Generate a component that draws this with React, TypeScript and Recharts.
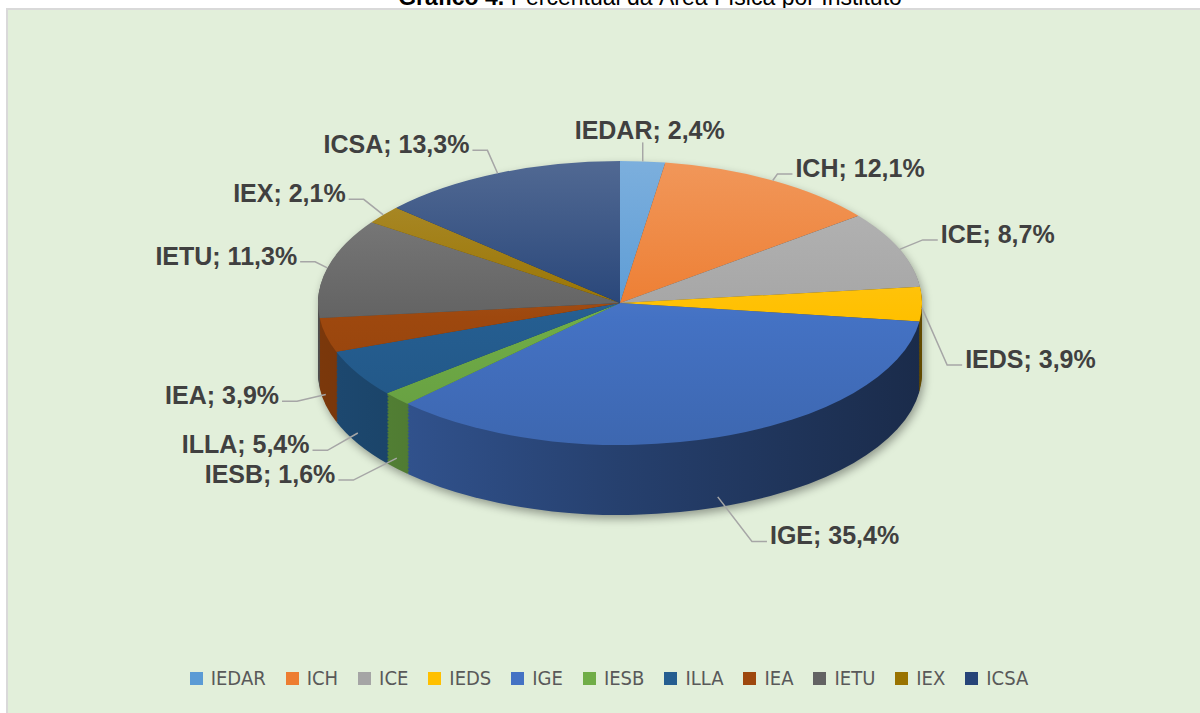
import { PieChart, Pie, Cell, Legend } from 'recharts';

// Gráfico 4 — share of physical area per institute (3D-style pie, Excel look)

const INSTITUTES = ['IEDAR', 'ICH', 'ICE', 'IEDS', 'IGE', 'IESB', 'ILLA', 'IEA', 'IETU', 'IEX', 'ICSA'];
const AREA_PCT = [2.4, 12.1, 8.7, 3.9, 35.4, 1.6, 5.4, 3.9, 11.3, 2.1, 13.3];

const COLORS = [
  '#5B9BD5', '#ED7D31', '#A5A5A5', '#FFC000', '#4472C4', '#70AD47',
  '#255E91', '#9E480E', '#636363', '#997300', '#264478',
];

// small label tweaks, Excel "best fit" moved a few of them
const LABEL_NUDGE: Record<string, [number, number]> = {
  ICH: [-8, 15],
  IEDS: [0, 57],
  IGE: [20, 3],
  IESB: [-15, -4],
  IETU: [12, 0],
};

const W = 1200;
const H = 713;
const CX = 620;
const CY = 303;
const RX = 302;
const RY = 142;
const DEPTH = 70;

const SY = RY / RX;
const CY_U = CY / SY;
const DEPTH_U = DEPTH / SY;
const STEP_U = 3;
const HU = Math.ceil(CY_U + DEPTH_U + RX + 20);
const LAYERS = Array.from({ length: Math.ceil(DEPTH_U / STEP_U) }, (_, i) => DEPTH_U - i * STEP_U);

const RADIAN = Math.PI / 180;

const rows = INSTITUTES.map((name, i) => ({ name, value: AREA_PCT[i] }));

function toRgb(hex: string) {
  const n = parseInt(hex.slice(1), 16);
  return [(n >> 16) & 255, (n >> 8) & 255, n & 255];
}
function shade(hex: string, f: number) {
  const [r, g, b] = toRgb(hex).map((v) => Math.round(v * f));
  return `rgb(${r},${g},${b})`;
}
function tint(hex: string, f: number) {
  const [r, g, b] = toRgb(hex).map((v) => Math.round(v + (255 - v) * f));
  return `rgb(${r},${g},${b})`;
}

const fmt = (v: number) => `${v.toFixed(1).replace('.', ',')}%`;

// eslint-disable-next-line @typescript-eslint/no-explicit-any
function renderLabel(props: any) {
  const { cx, cy, midAngle, index } = props;
  const name = INSTITUTES[index];
  const c = Math.cos(midAngle * RADIAN);
  const s = Math.sin(midAngle * RADIAN);
  const ex = cx + RX * c;
  let ey = cy - RY * s;
  if (s < 0) ey += DEPTH * 0.85 * Math.min(1, -s * 8);
  const text = `${name}; ${fmt(AREA_PCT[index])}`;
  const textStyle = {
    fontSize: 25,
    fontWeight: 700,
    fill: '#404040',
    fontFamily: "'Liberation Sans', Arial, sans-serif",
  };

  if (Math.abs(c) < 0.15) {
    return (
      <g key={`lbl-${index}`}>
        <polyline points={`${ex},${ey} ${ex},${ey - 19}`} stroke="#A6A6A6" strokeWidth={1.5} fill="none" />
        <text x={ex + 7} y={ey - 31} dy="0.35em" textAnchor="middle" {...textStyle}>
          {text}
        </text>
      </g>
    );
  }

  const [nx, ny] = LABEL_NUDGE[name] ?? [0, 0];
  const k = 25 + (s < 0 ? 20 * -s : 0);
  const bx = ex + k * c + nx;
  const by = ey - k * s + ny;
  const dir = c > 0 ? 1 : -1;
  const tx = bx + dir * 15;
  return (
    <g key={`lbl-${index}`}>
      <polyline
        points={`${ex},${ey} ${bx},${by} ${tx},${by}`}
        stroke="#A6A6A6"
        strokeWidth={1.5}
        fill="none"
      />
      <text x={tx + dir * 3} y={by - 6} dy="0.35em" textAnchor={dir > 0 ? 'start' : 'end'} {...textStyle}>
        {text}
      </text>
    </g>
  );
}

function LegendContent() {
  return (
    <div
      style={{
        display: 'flex',
        justifyContent: 'center',
        alignItems: 'center',
        paddingLeft: 38,
        fontFamily: "'Liberation Sans Narrow', 'DejaVu Sans Condensed', sans-serif",
        fontSize: 20,
        color: '#595959',
      }}
    >
      {INSTITUTES.map((name, i) => (
        <div key={name} style={{ display: 'flex', alignItems: 'center', marginRight: 20 }}>
          <span style={{ width: 13, height: 13, background: COLORS[i], marginRight: 8, display: 'inline-block' }} />
          <span>{name}</span>
        </div>
      ))}
    </div>
  );
}

const zero = { top: 0, right: 0, bottom: 0, left: 0 };

export default function App() {
  return (
    <div style={{ position: 'absolute', left: 0, top: 0, width: W, height: H, overflow: 'hidden', background: '#fff' }}>
      <div
        style={{
          position: 'absolute',
          left: 0,
          top: -14,
          width: 1300,
          textAlign: 'center',
          fontFamily: "'Liberation Sans', Arial, sans-serif",
          fontSize: 23,
          lineHeight: 1,
          color: '#000',
        }}
      >
        <b>Gráfico 4.</b> Percentual da Área Física por Instituto
      </div>
      <div
        style={{
          position: 'absolute',
          left: 6,
          top: 8,
          width: 1210,
          height: 720,
          background: '#E2EFDA',
          border: '2px solid #D9D9D9',
          boxSizing: 'border-box',
        }}
      />

      {/* pie body: circular pie squashed vertically, side wall built from stacked layers */}
      <div style={{ position: 'absolute', left: 0, top: 0, filter: 'drop-shadow(2px 4px 4px rgba(0,0,0,0.35))' }}>
        <div style={{ width: W, height: HU, transform: `scaleY(${SY})`, transformOrigin: '0 0' }}>
          <PieChart width={W} height={HU} margin={zero}>
            <defs>
              {COLORS.map((c, i) => (
                <linearGradient
                  key={`side-${i}`}
                  id={`side-${i}`}
                  gradientUnits="userSpaceOnUse"
                  x1={CX - RX}
                  y1={0}
                  x2={CX + RX}
                  y2={0}
                >
                  <stop offset="0" stopColor={shade(c, 0.78)} />
                  <stop offset="0.5" stopColor={shade(c, 0.56)} />
                  <stop offset="1" stopColor={shade(c, 0.38)} />
                </linearGradient>
              ))}
              {COLORS.map((c, i) => (
                <linearGradient
                  key={`top-${i}`}
                  id={`top-${i}`}
                  gradientUnits="userSpaceOnUse"
                  x1={0}
                  y1={CY_U - RX}
                  x2={0}
                  y2={CY_U + RX}
                >
                  <stop offset="0" stopColor={tint(c, 0.2)} />
                  <stop offset="0.55" stopColor={c} />
                  <stop offset="1" stopColor={shade(c, 0.9)} />
                </linearGradient>
              ))}
            </defs>
            {LAYERS.map((off, li) => (
              <Pie
                key={`layer-${li}`}
                data={rows}
                dataKey="value"
                nameKey="name"
                cx={CX}
                cy={CY_U + off}
                outerRadius={RX}
                startAngle={90}
                endAngle={-270}
                stroke="none"
                legendType="none"
                isAnimationActive={false}
              >
                {rows.map((r, i) => (
                  <Cell key={r.name} fill={`url(#side-${i})`} />
                ))}
              </Pie>
            ))}
            <Pie
              data={rows}
              dataKey="value"
              nameKey="name"
              cx={CX}
              cy={CY_U}
              outerRadius={RX}
              startAngle={90}
              endAngle={-270}
              stroke="none"
              legendType="none"
              isAnimationActive={false}
            >
              {rows.map((r, i) => (
                <Cell key={r.name} fill={`url(#top-${i})`} />
              ))}
            </Pie>
          </PieChart>
        </div>
      </div>

      {/* labels + legend, unsquashed */}
      <div style={{ position: 'absolute', left: 0, top: 0 }}>
        <PieChart width={W} height={H} margin={zero}>
          <Pie
            data={rows}
            dataKey="value"
            nameKey="name"
            cx={CX}
            cy={CY}
            outerRadius={RX}
            startAngle={90}
            endAngle={-270}
            stroke="none"
            label={renderLabel}
            labelLine={false}
            isAnimationActive={false}
          >
            {rows.map((r, i) => (
              <Cell key={r.name} fill={COLORS[i]} fillOpacity={0} />
            ))}
          </Pie>
          <Legend
            verticalAlign="bottom"
            content={<LegendContent />}
            wrapperStyle={{ top: 666, bottom: 'auto', left: 0, width: W }}
          />
        </PieChart>
      </div>
    </div>
  );
}
